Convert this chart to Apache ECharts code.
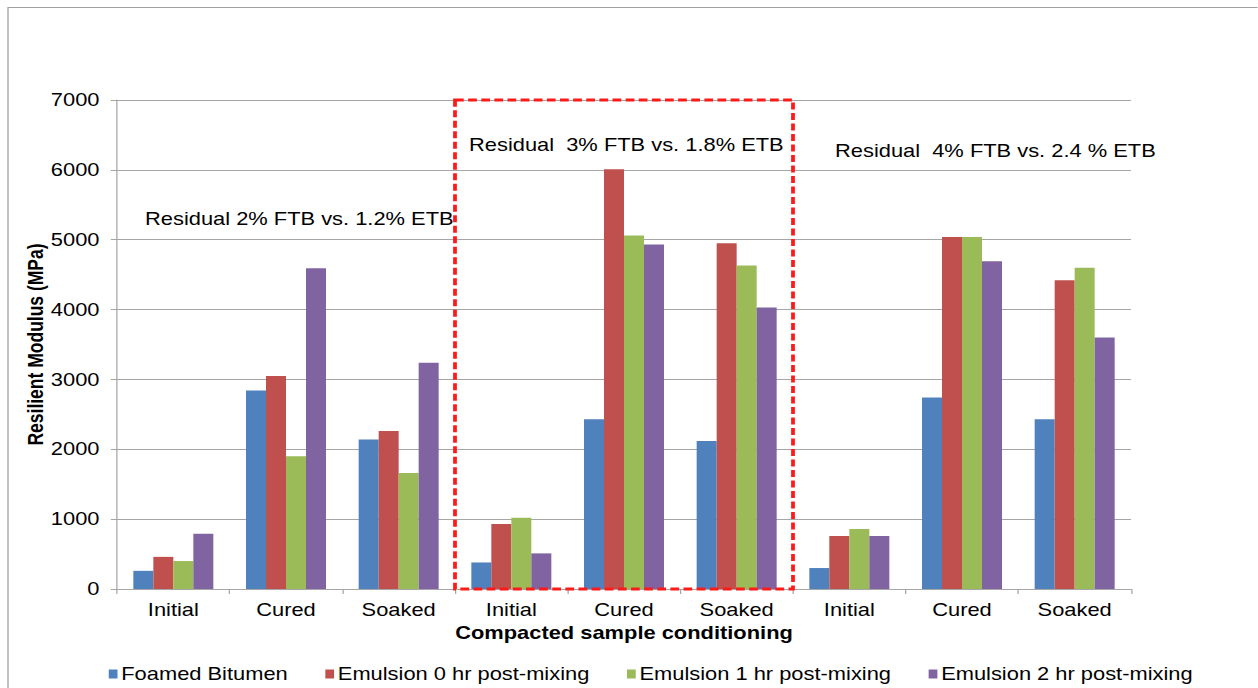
<!DOCTYPE html>
<html>
<head>
<meta charset="utf-8">
<script src="https://cdn.jsdelivr.net/npm/echarts@6/dist/echarts.min.js"></script>
<style>
  html, body { margin: 0; padding: 0; background: #ffffff; overflow: hidden; }
  #wrap { width: 1258px; height: 688px; overflow: hidden; }
  #chart { height: 688px; transform-origin: 0 0; }
</style>
</head>
<body>
<div id="wrap"><div id="chart"></div></div>
<script>
// Horizontal stretch of the whole figure (text, axes and bars alike)
const STRETCH = 1.25;

const categories = ['Initial', 'Cured', 'Soaked', 'Initial', 'Cured', 'Soaked', 'Initial', 'Cured', 'Soaked'];
const foamedBitumen = [260, 2840, 2140, 380, 2430, 2120, 300, 2740, 2430];
const emulsion0hr   = [460, 3050, 2260, 930, 6010, 4950, 760, 5040, 4420];
const emulsion1hr   = [400, 1900, 1660, 1020, 5060, 4630, 860, 5040, 4600];
const emulsion2hr   = [790, 4590, 3240, 510, 4930, 4030, 760, 4690, 3600];
const seriesNames = ['Foamed Bitumen', 'Emulsion 0 hr post-mixing', 'Emulsion 1 hr post-mixing', 'Emulsion 2 hr post-mixing'];
const seriesColors = ['#4f81bd', '#c0504d', '#9bbb59', '#8064a2'];
const yTicks = { min: 0, max: 7000, interval: 1000 };

// Group captions and the highlighted middle group (category slots 3..6, full height)
const groupNotes = [
  { text: 'Residual 2% FTB vs. 1.2% ETB', x: 145, y: 219 },
  { text: 'Residual  3% FTB vs. 1.8% ETB', x: 469, y: 145 },
  { text: 'Residual  4% FTB vs. 2.4 % ETB', x: 835, y: 151 }
];
const highlightBox = [[3, 6, 0, 7000]];

const W = 1258 / STRETCH;
const el = document.getElementById('chart');
el.style.width = W + 'px';
el.style.transform = 'scaleX(' + STRETCH + ')';

const FONT = '"Liberation Sans", Arial, sans-serif';
const FS = 17.5;
const GRAY = '#a6a6a6';

const chart = echarts.init(el, null, { renderer: 'svg', width: W, height: 688 });

const barData = [foamedBitumen, emulsion0hr, emulsion1hr, emulsion2hr];

const option = {
  animation: false,
  textStyle: { fontFamily: FONT, color: '#000' },
  grid: { left: 117 / STRETCH, right: 127 / STRETCH, top: 100, bottom: 99, containLabel: false },
  legend: {
    data: seriesNames,
    left: 82,
    top: 660,
    icon: 'rect',
    itemWidth: 7,
    itemHeight: 9,
    itemGap: 30,
    textStyle: { fontFamily: FONT, fontSize: FS, color: '#000', padding: [0, 0, 0, -2] }
  },
  xAxis: [
    {
      type: 'category',
      data: categories,
      name: 'Compacted sample conditioning',
      nameLocation: 'middle',
      nameGap: 35,
      nameMoveOverlap: false,
      nameTextStyle: { fontFamily: FONT, fontSize: FS, fontWeight: 'bold', color: '#000', verticalAlign: 'top' },
      axisLine: { lineStyle: { color: GRAY, width: 1 } },
      axisTick: { show: true, length: 5, lineStyle: { color: GRAY } },
      axisLabel: { fontFamily: FONT, fontSize: FS, color: '#000', margin: 12 },
      splitLine: { show: false }
    },
    {
      type: 'value',
      min: 0,
      max: 9,
      show: false
    }
  ],
  yAxis: {
    type: 'value',
    min: yTicks.min,
    max: yTicks.max,
    interval: yTicks.interval,
    name: 'Resilient Modulus (MPa)',
    nameLocation: 'middle',
    nameGap: 65,
    nameMoveOverlap: false,
    nameTextStyle: { fontFamily: FONT, fontSize: FS, fontWeight: 'bold', color: '#000', verticalAlign: 'middle' },
    axisLine: { show: true, lineStyle: { color: GRAY, width: 1 } },
    axisTick: { show: true, length: 5, lineStyle: { color: GRAY } },
    axisLabel: { fontFamily: FONT, fontSize: FS, color: '#000', margin: 14, formatter: v => String(v) },
    splitLine: { show: true, lineStyle: { color: GRAY, width: 1 } }
  },
  series: barData.map((vals, i) => ({
    name: seriesNames[i],
    type: 'bar',
    data: vals,
    barWidth: 16,
    barGap: '0%',
    itemStyle: { color: seriesColors[i] },
    z: 2
  })).concat([{
    type: 'custom',
    xAxisIndex: 1,
    yAxisIndex: 0,
    data: highlightBox,
    silent: true,
    z: 5,
    renderItem: function (params, api) {
      const p0 = api.coord([api.value(0), api.value(3)]);
      const p1 = api.coord([api.value(1), api.value(2)]);
      return {
        type: 'rect',
        shape: { x: p0[0], y: p0[1], width: p1[0] - p0[0], height: p1[1] - p0[1] },
        style: { fill: 'none', stroke: '#ff1a1a', lineWidth: 3, lineDash: [7, 3.5] }
      };
    }
  }]),
  graphic: [
    {
      type: 'rect',
      silent: true,
      shape: { x: 8 / STRETCH, y: 7.5, width: W + 20, height: 700 },
      style: { fill: 'none', stroke: '#a0a0a0', lineWidth: 1 }
    }
  ].concat(groupNotes.map(n => ({
    type: 'text',
    silent: true,
    x: n.x / STRETCH,
    y: n.y,
    style: { text: n.text, fontFamily: FONT, fontSize: FS, fill: '#000', textAlign: 'left', textVerticalAlign: 'middle' },
    z: 10
  })))
};

chart.setOption(option);
</script>
</body>
</html>
